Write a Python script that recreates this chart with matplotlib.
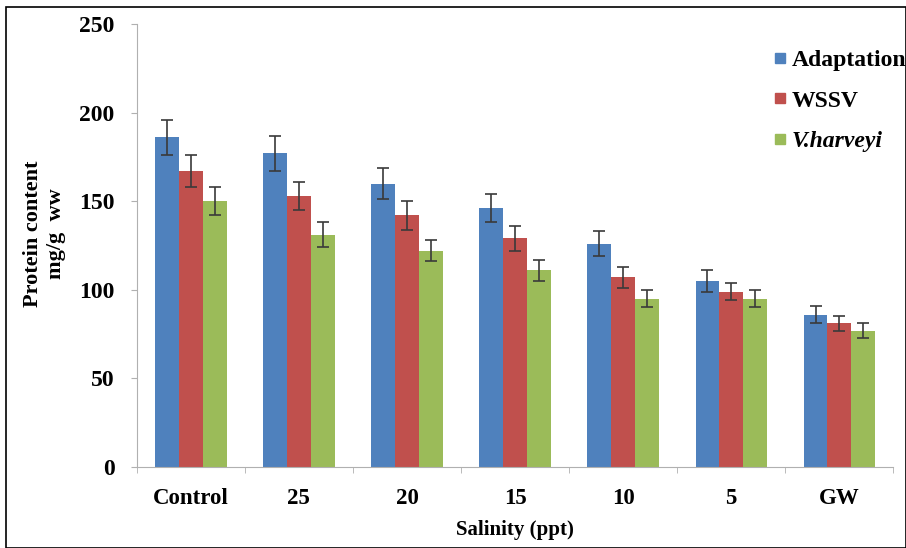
import numpy as np
import matplotlib.pyplot as plt
from matplotlib.patches import Rectangle
from matplotlib.lines import Line2D

plt.rcParams['font.family'] = 'Liberation Serif'
plt.rcParams['font.weight'] = 'bold'

categories = ['Control', '25', '20', '15', '10', '5', 'GW']
adaptation = [186, 177, 160, 146, 126, 105, 86]
wssv = [167, 153, 142, 129, 107, 99, 81]
vharveyi = [150, 131, 122, 111, 95, 95, 77]
err_adaptation = [10, 10, 9, 8, 7, 6, 5]
err_wssv = [9, 8, 8, 7, 6, 5, 4]
err_vharveyi = [8, 7, 6, 6, 5, 5, 4]

series = [
    ('Adaptation', adaptation, err_adaptation, '#4F81BD'),
    ('WSSV', wssv, err_wssv, '#C0504D'),
    ('V.harveyi', vharveyi, err_vharveyi, '#9BBB59'),
]

fig = plt.figure(figsize=(9.06, 5.48), dpi=100)
ax = fig.add_axes([0.151, 0.148, 0.835, 0.808])

x = np.arange(len(categories))
w = 0.22
for i, (name, vals, errs, col) in enumerate(series):
    ax.bar(x + (i - 1) * w, vals, w, color=col, label=name, zorder=2)
    ax.errorbar(x + (i - 1) * w, vals, yerr=errs, fmt='none', ecolor='#3a3a3a',
                elinewidth=1.2, capsize=4, capthick=1.2, zorder=3)

ax.set_xlim(-0.5, len(categories) - 0.5)
ax.set_ylim(0, 250)
ax.set_yticks([0, 50, 100, 150, 200, 250])
ax.set_xticks(x)
ax.set_xticklabels(categories)
ax.set_xticks(np.arange(-0.5, len(categories)), minor=True)
ax.tick_params(axis='x', which='major', length=0, pad=15, labelsize=16.5)
ax.tick_params(axis='x', which='minor', length=4, color='#b0b0b0')
ax.tick_params(axis='y', length=4, color='#b0b0b0', labelsize=17, pad=12)
for lab in ax.get_xticklabels() + ax.get_yticklabels():
    lab.set_fontweight('bold')

for s in ['top', 'right']:
    ax.spines[s].set_visible(False)
for s in ['left', 'bottom']:
    ax.spines[s].set_color('#b0b0b0')

ax.set_xlabel('Salinity (ppt)', fontsize=15, fontweight='bold', labelpad=8)
ax.set_ylabel('Protein content\nmg/g  ww', fontsize=16, fontweight='bold',
              va='center', ha='center')
ax.yaxis.set_label_coords(-0.122, 0.526)

handles = [Line2D([], [], marker='s', ls='none', color=c, markersize=7) for _, _, _, c in series]
leg = ax.legend(handles, [s[0] for s in series], loc='upper right',
                bbox_to_anchor=(1.045, 0.99), frameon=False, fontsize=17,
                handletextpad=0.1, labelspacing=0.8, handlelength=0.8)
for t in leg.get_texts():
    t.set_fontweight('bold')
leg.get_texts()[2].set_fontstyle('italic')

fig.patches.append(Rectangle((0.007, 0.0), 0.993, 0.988, transform=fig.transFigure,
                             fill=False, edgecolor='black', linewidth=1.2))

fig.savefig('out.png', dpi=100)
